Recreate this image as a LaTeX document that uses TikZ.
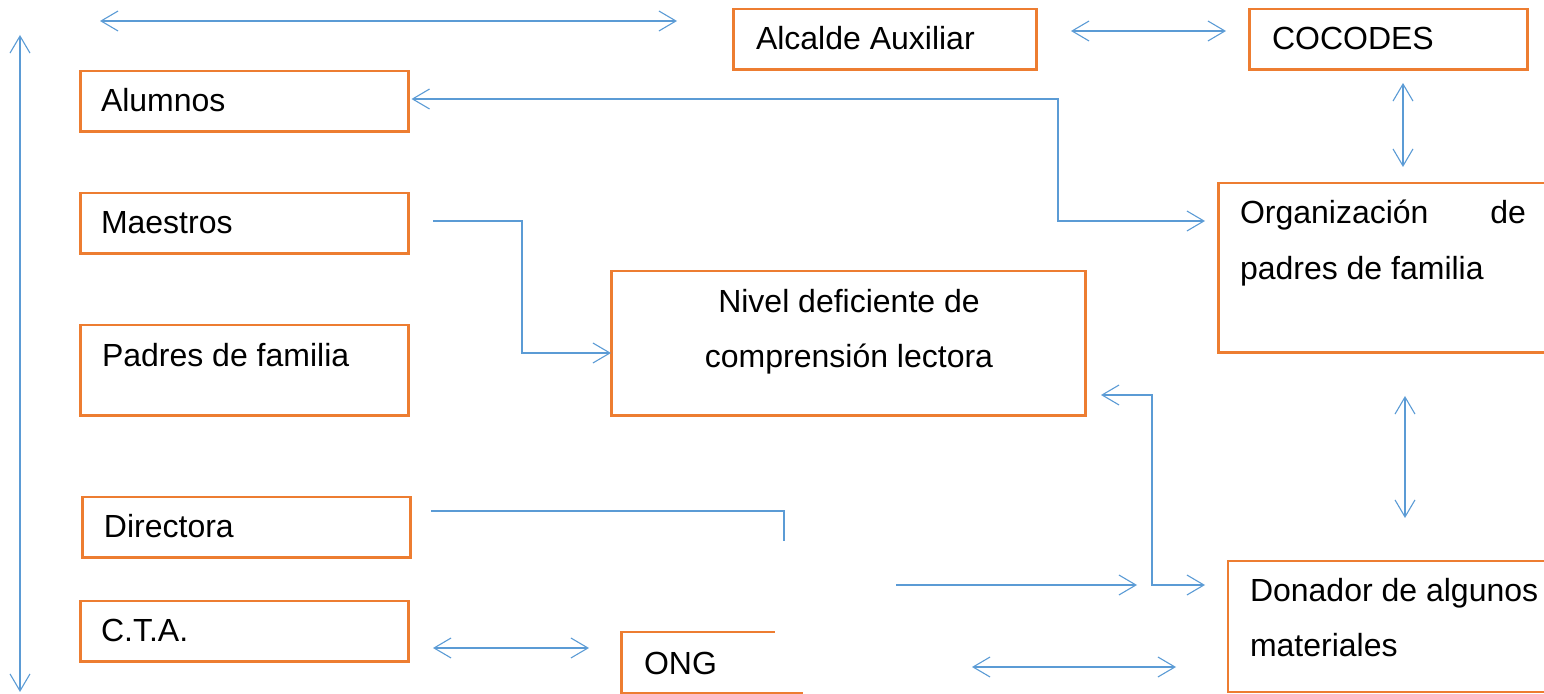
\documentclass[tikz,border=0pt]{standalone}
\usepackage{fontspec}
\setmainfont{Liberation Sans}
\usetikzlibrary{arrows.meta,fit,calc}
\definecolor{boxorange}{HTML}{ED7D31}
\definecolor{linkblue}{HTML}{5B9BD5}
\tikzset{
  x=0.5pt,y=-0.5pt,
  box/.style={draw=boxorange,line width=1.2pt,inner sep=0pt,outer sep=0pt},
  openbox/.style={inner sep=0pt,outer sep=0pt},
  edgeline/.style={draw=boxorange,line width=1.2pt,line cap=rect},
  txt/.style={anchor=base west,inner sep=0pt,outer sep=0pt,font=\fontsize{16pt}{18pt}\selectfont,text=black},
  txtc/.style={txt,anchor=base},
  link/.style={draw=linkblue,line width=0.55pt},
  both/.style={link,{Straight Barb[length=8.5pt,width=10pt,line width=0.55pt]}-{Straight Barb[length=8.5pt,width=10pt,line width=0.55pt]}},
  tohead/.style={link,-{Straight Barb[length=8.5pt,width=10pt,line width=0.55pt]}},
}
\begin{document}
\begin{tikzpicture}
\useasboundingbox (0,0) rectangle (1544,694);
% closed boxes
\node[box,fit={(733.5,9)(1036.5,69.5)}] (alcalde) {};
\node[box,fit={(1249.5,9)(1527.5,69.5)}] (cocodes) {};
\node[box,fit={(80.5,71)(408.5,131.5)}] (alumnos) {};
\node[box,fit={(80.5,193)(408.5,253.5)}] (maestros) {};
\node[box,fit={(80.5,325)(408.5,415.5)}] (padres) {};
\node[box,fit={(611.5,271)(1085.5,415.5)}] (nivel) {};
\node[box,fit={(82.5,497)(410.5,557.5)}] (directora) {};
\node[box,fit={(80.5,601)(408.5,661.5)}] (cta) {};
% boxes with a missing side
\node[openbox,fit={(1218.5,183)(1544,352.5)}] (org) {};
\node[openbox,fit={(1228,561)(1544,692.3)}] (donador) {};
\node[openbox,fit={(621.5,632)(801.5,692.8)}] (ong) {};
\draw[edgeline] (org.north east) -- (org.north west) -- (org.south west) -- (org.south east);
\draw[edgeline] (donador.north east) -- (donador.north west) -- (donador.south west) -- (donador.south east);
\draw[edgeline] ($(ong.north west)+(152,0)$) -- (ong.north west) -- (ong.south west) -- (ong.south east);
% texts
\node[txt] (talcalde) at (756,50) {Alcalde Auxiliar};
\node[txt] (tcocodes) at (1272,50) {COCODES};
\node[txt] (talumnos) at (101,112) {Alumnos};
\node[txt] (tmaestros) at (101,234) {Maestros};
\node[txt] (tpadres) at (102,367) {Padres de familia};
\node[txtc] (tnivela) at (849,313) {Nivel deficiente de};
\node[txtc] (tnivelb) at (849,368) {comprensión lectora};
\node[txt] (tdirectora) at (104,538) {Directora};
\node[txt] (tcta) at (101,642) {C.T.A.};
\node[txt] (tong) at (644,675) {ONG};
\node[txt] (torga) at (1240,224) {Organización};
\node[txt,anchor=base east] (torgb) at (1526,224) {de};
\node[txt] (torgc) at (1240,280) {padres de familia};
\node[txt] (tdona) at (1250,602) {Donador de algunos};
\node[txt] (tdonb) at (1250,657) {materiales};
% free ends
\coordinate (topL) at (100,21);
\coordinate (topR) at (677,21);
\coordinate (sideT) at (20,35);
\coordinate (sideB) at (20,692);
\coordinate (dirEnd) at (784,541);
\coordinate (midA) at (896,585);
\coordinate (midB) at (1137,585);
\coordinate (lowA) at (972,667);
\coordinate (lowB) at (1176,667);
\coordinate (alcR) at (1071,31);
\coordinate (cocL) at (1226,31);
\coordinate (cocB) at (1403,83);
\coordinate (orgT) at (1403,167);
\coordinate (orgB) at (1405,396);
\coordinate (donT) at (1405,518);
\coordinate (ctaR) at (433,648);
\coordinate (ongL) at (589,648);
% connectors
\draw[both] (topL) -- (topR);
\draw[both] (sideT) -- (sideB);
\draw[both] (alcR) -- (cocL);
\draw[both] (cocB) -- (orgT);
\draw[both] ([shift={(3,-2.25)}]alumnos.east) -- (1058,99) -- (1058,221) -- ([shift={(-13.5,-46.75)}]org.west);
\draw[tohead] ([shift={(24.5,-2.25)}]maestros.east) -- (522,221) -- (522,353) -- ([shift={(-0.5,9.75)}]nivel.west);
\draw[both] ([shift={(15.5,51.75)}]nivel.east) -- (1152,395) -- (1152,585) -- ([shift={(-23,-41.65)}]donador.west);
\draw[both] (orgB) -- (donT);
\draw[link] ([shift={(20.5,-16.25)}]directora.east) -- (784,511) -- (dirEnd);
\draw[tohead] (midA) -- (midB);
\draw[both] (ctaR) -- (ongL);
\draw[both] (lowA) -- (lowB);
\end{tikzpicture}
\end{document}
